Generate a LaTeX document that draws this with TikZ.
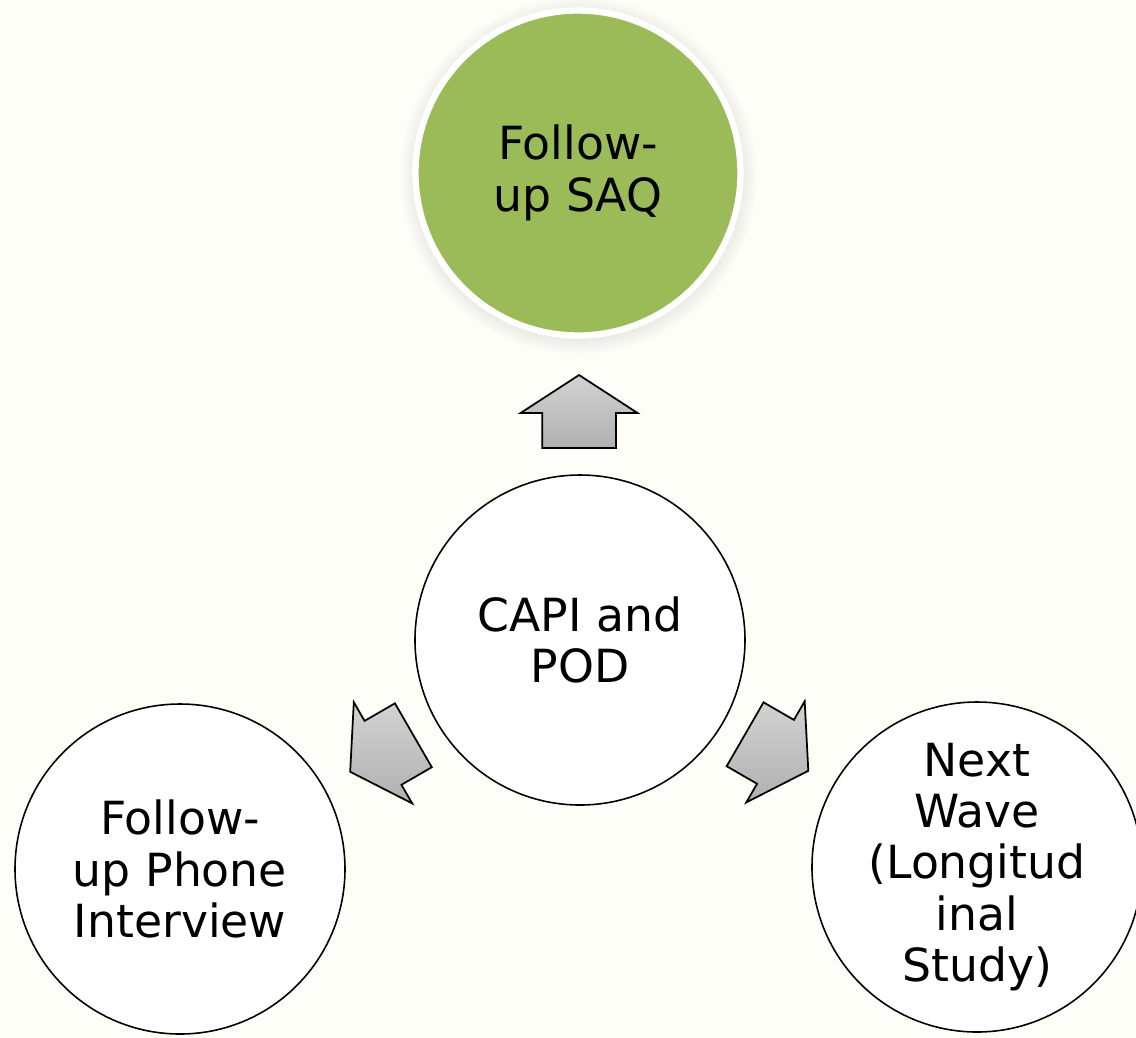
\documentclass[tikz,border=0pt]{standalone}
\usepackage{fontspec}
\setmainfont{DejaVu Sans}
\usepackage{tikz}
\usetikzlibrary{calc, shapes.arrows, shadows}
\definecolor{bgcream}{RGB}{254,254,249}
\definecolor{saqgreen}{RGB}{155,187,89}

\begin{document}
\begin{tikzpicture}[
        every node/.style={circle, minimum size=3.3cm, inner sep=0pt, align=center,
            font=\fontsize{13}{14.6}\selectfont},
        stage/.style={draw=black, line width=0.45pt, fill=white},
        goal/.style={draw=white, line width=1.8pt, fill=saqgreen, minimum size=3.25cm,
            circular drop shadow={shadow xshift=0pt, shadow yshift=-0.6pt, opacity=0.25}},
        blockarrow/.style={single arrow, draw=black, line width=0.5pt,
            minimum size=0pt, minimum height=0.73cm, inner xsep=0pt, inner ysep=0.36cm,
            single arrow head extend=0.215cm, single arrow tip angle=114,
            top color=gray!35, bottom color=gray!62}
    ]
    \fill[bgcream] (0,0) rectangle (11.36,-10.38);
    \useasboundingbox (0,0) rectangle (11.36,-10.38);
    % Define nodes
    \node[goal] (saq) at (5.78,-1.73) {Follow-\\up SAQ};
    \node[stage] (capi) at (5.80,-6.40) {CAPI and\\POD};
    \node[stage] (phone) at (1.80,-8.69) {Follow-\\up Phone\\Interview};
    \node[stage] (wave) at (9.77,-8.67) {Next\\Wave\\(Longitud\\inal\\Study)};
    % Draw arrows
    \node[blockarrow, rotate=90] (toSaq) at ($(capi)!0.5!(saq)!0.17cm!(capi)$) {};
    \node[blockarrow, rotate=210] (toPhone) at ($(capi)!0.5!(phone)!0.14cm!(capi)$) {};
    \node[blockarrow, rotate=-30] (toWave) at ($(capi)!0.5!(wave)!0.14cm!(capi)$) {};
\end{tikzpicture}
\end{document}
